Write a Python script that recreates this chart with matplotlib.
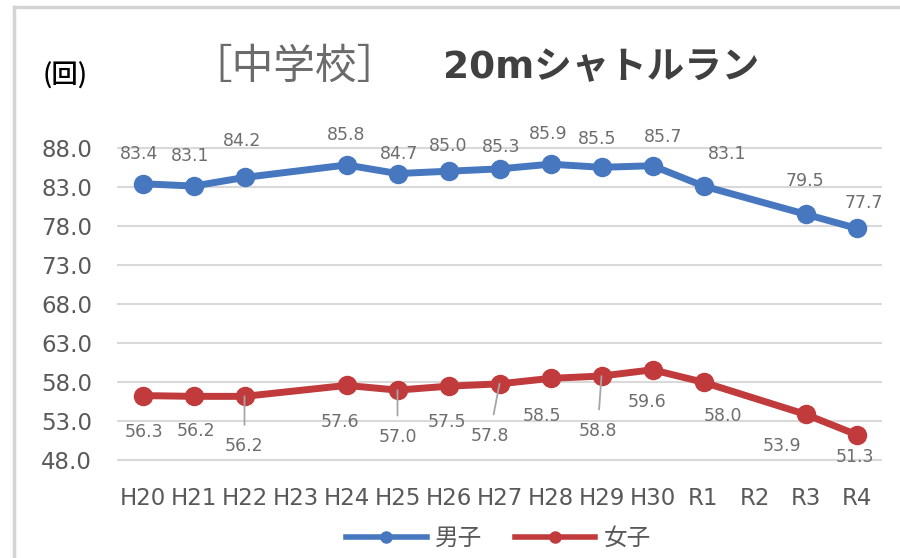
import matplotlib.pyplot as plt
from matplotlib.lines import Line2D

plt.rcParams['font.family'] = ['DejaVu Sans', 'Noto Sans CJK JP']

years = ['H20', 'H21', 'H22', 'H23', 'H24', 'H25', 'H26', 'H27', 'H28', 'H29',
         'H30', 'R1', 'R2', 'R3', 'R4']
boys = [83.4, 83.1, 84.2, None, 85.8, 84.7, 85.0, 85.3, 85.9, 85.5, 85.7, 83.1,
        None, 79.5, 77.7]
girls = [56.3, 56.2, 56.2, None, 57.6, 57.0, 57.5, 57.8, 58.5, 58.8, 59.6, 58.0,
         None, 53.9, 51.3]
yticks = [48.0, 53.0, 58.0, 63.0, 68.0, 73.0, 78.0, 83.0, 88.0]

# label offsets in pixels (dx, dy), dy positive = downward
boys_off = [(-3, -30), (-3, -30), (-2, -36), None, (0, -30), (2, -20), (0, -25),
            (2, -22), (-2, -30), (-4, -28), (11, -29), (24, -32), None,
            (-1, -33), (7, -25)]
girls_off = [(1, 36), (2, 35), (0, 50), None, (-7, 37), (0, 47), (-2, 36),
             (-10, 52), (-9, 38), (-4, 55), (-5, 32), (19, 34), None,
             (-23, 32), (-2, 22)]
leader = [2, 5, 7, 9]  # girls' labels that get a leader line

blue = '#4677BF'
red = '#C13A3C'
grey_txt = '#595959'

fig = plt.figure(figsize=(9, 5.58), dpi=100)
ax = fig.add_axes([0.13, 0.172, 0.85, 0.566])

for vals, offs, col, name in [(boys, boys_off, blue, '男子'),
                              (girls, girls_off, red, '女子')]:
    xs = [i for i, v in enumerate(vals) if v is not None]
    ys = [vals[i] for i in xs]
    ax.plot(xs, ys, color=col, lw=5, marker='o', ms=13, solid_capstyle='round',
            label=name, zorder=3)
    for i in xs:
        dx, dy = offs[i]
        arrow = None
        if col == red and i in leader:
            arrow = dict(arrowstyle='-', color='#a6a6a6', lw=1.3,
                         shrinkA=7, shrinkB=0)
        ax.annotate(f'{vals[i]:.1f}', (i, vals[i]), xytext=(dx, -dy),
                    textcoords='offset pixels', ha='center', va='center',
                    fontsize=12.5, color='#6e6e6e', arrowprops=arrow, zorder=5)

ax.set_xlim(-0.5, len(years) - 0.5)
ax.set_ylim(47.8, 88.2)
ax.set_xticks(range(len(years)), years)
ax.set_yticks(yticks, [f'{t:.1f}' for t in yticks])
ax.tick_params(axis='x', length=0, pad=18, labelsize=16.5, labelcolor=grey_txt)
ax.tick_params(axis='y', length=0, pad=18, labelsize=16.5, labelcolor=grey_txt)
ax.grid(axis='y', color='#d9d9d9', lw=1.5)
ax.set_axisbelow(True)
for s in ax.spines.values():
    s.set_visible(False)

# legend
handles = [Line2D([], [], color=blue, lw=4, marker='o', ms=8),
           Line2D([], [], color=red, lw=4, marker='o', ms=8)]
fig.legend(handles, ['男子', '女子'], loc='center', bbox_to_anchor=(0.554, 0.036),
           ncol=2, frameon=False, fontsize=17, handlelength=3.4,
           handletextpad=0.35, columnspacing=1.4, labelcolor=grey_txt)

# title and unit
fig.text(0.212, 0.858, '［中学校］', fontsize=30, color='#6b6b6b',
         family=['Noto Sans CJK JP'], ha='left', va='baseline')
fig.text(0.492, 0.86, '20mシャトルラン', fontsize=27, color='#404040',
         fontweight='bold', ha='left', va='baseline')
fig.text(0.047, 0.85, '(回)', fontsize=19, color='black', ha='left',
         va='baseline', family=['Noto Sans CJK JP'], fontweight='medium')

# outer frame (top and left edges)
fig.add_artist(Line2D([0.0156, 1], [0.9875, 0.9875], color='#d4d4d4', lw=2.5))
fig.add_artist(Line2D([0.0156, 0.0156], [0, 0.9875], color='#d4d4d4', lw=2.5))

fig.savefig('out.png', dpi=100, facecolor='white')
